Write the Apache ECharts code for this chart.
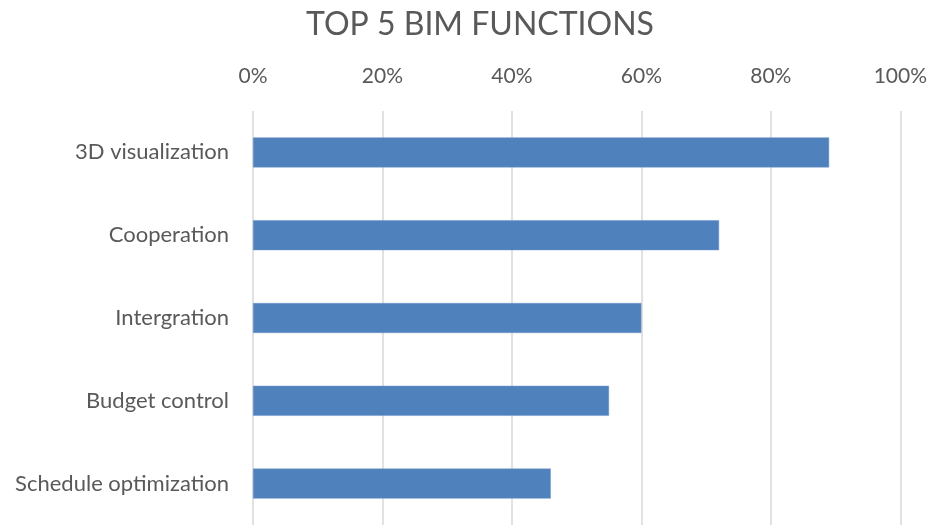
<!DOCTYPE html>
<html>
<head>
<meta charset="utf-8">
<script src="https://cdn.jsdelivr.net/npm/echarts@6/dist/echarts.min.js"></script>
<style>
  html, body { margin: 0; padding: 0; background: #fff; }
  #chart { width: 930px; height: 525px; }
</style>
</head>
<body>
<div id="chart"></div>
<script>
// BIM functions and the share of respondents naming each (%)
const functions = ['3D visualization', 'Cooperation', 'Intergration', 'Budget control', 'Schedule optimization'];
const shares = [89, 72, 60, 55, 46];
const percentTicks = [0, 20, 40, 60, 80, 100];

const FONT = 'Lato';
const TEXT_GRAY = '#595959';

const chart = echarts.init(document.getElementById('chart'));
chart.setOption({
  animation: false,
  backgroundColor: '#ffffff',
  title: {
    text: 'TOP 5 BIM FUNCTIONS',
    left: 475,
    textAlign: 'center',
    top: 4,
    textStyle: { fontFamily: FONT, fontSize: 32, fontWeight: 'normal', color: TEXT_GRAY }
  },
  grid: { left: 253, right: 29, top: 111, height: 416 },
  xAxis: {
    type: 'value',
    position: 'top',
    min: percentTicks[0],
    max: percentTicks[percentTicks.length - 1],
    interval: percentTicks[1] - percentTicks[0],
    axisLine: { show: false },
    axisTick: { show: false },
    axisLabel: {
      formatter: '{value}%',
      margin: 24,
      fontFamily: FONT, fontSize: 21, color: TEXT_GRAY
    },
    splitLine: { show: true, lineStyle: { color: '#d9d9d9', width: 1.5 } }
  },
  yAxis: {
    type: 'category',
    inverse: true,
    data: functions,
    axisLine: { show: false },
    axisTick: { show: false },
    axisLabel: { margin: 24, fontFamily: FONT, fontSize: 22, color: TEXT_GRAY }
  },
  series: [{
    type: 'bar',
    data: shares,
    barWidth: 30,
    itemStyle: { color: '#4f81bd', borderColor: '#6f97c9', borderWidth: 0.5 }
  }]
});
</script>
</body>
</html>
